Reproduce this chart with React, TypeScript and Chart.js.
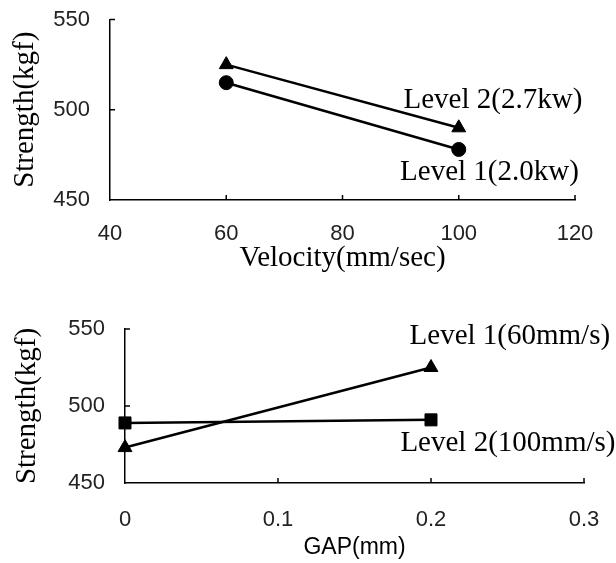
import React, { useEffect, useRef } from "react";
import { Chart, registerables } from "chart.js";

Chart.register(...registerables);

// ---- Top chart: Strength vs Velocity ----
const velocity = [60, 100];
const level2Power = [525, 490]; // Level 2(2.7kw), triangles
const level1Power = [515, 478]; // Level 1(2.0kw), circles
const velocityTicks = [40, 60, 80, 100, 120];
const strengthTicks = [450, 500, 550];
const topLabelText = ["Level 2(2.7kw)", "Level 1(2.0kw)"];

// ---- Bottom chart: Strength vs GAP ----
const gap = [0, 0.2];
const level1Speed = [473, 525]; // Level 1(60mm/s), triangles
const level2Speed = [489, 491]; // Level 2(100mm/s), squares
const gapTicks = [0, 0.1, 0.2, 0.3];
const bottomLabelText = ["Level 1(60mm/s)", "Level 2(100mm/s)"];

const SERIF = "'Liberation Serif', 'Times New Roman', serif";
const SANS = "'Liberation Sans', Arial, sans-serif";

const inwardTicks = {
  id: "inwardTicks",
  afterDraw(chart: any) {
    const { ctx, chartArea, scales } = chart;
    const xs = scales.x;
    const ys = scales.y;
    ctx.save();
    ctx.strokeStyle = "#000";
    ctx.lineWidth = 1.5;
    xs.ticks.forEach((t: any, i: number) => {
      if (i === 0) return;
      const px = xs.getPixelForValue(t.value);
      ctx.beginPath();
      ctx.moveTo(px, chartArea.bottom);
      ctx.lineTo(px, chartArea.bottom - 5);
      ctx.stroke();
    });
    ys.ticks.forEach((t: any, i: number) => {
      if (i === 0) return;
      const py = ys.getPixelForValue(t.value);
      ctx.beginPath();
      ctx.moveTo(chartArea.left, py);
      ctx.lineTo(chartArea.left + 5, py);
      ctx.stroke();
    });
    ctx.restore();
  },
};

function labelPlugin(items: { text: string; x: number; y: number }[], size: number) {
  return {
    id: "seriesLabels",
    afterDraw(chart: any) {
      const { ctx, scales } = chart;
      ctx.save();
      ctx.fillStyle = "#000";
      ctx.font = `${size}px ${SERIF}`;
      ctx.textAlign = "left";
      ctx.textBaseline = "middle";
      items.forEach((it) => {
        ctx.fillText(it.text, scales.x.getPixelForValue(it.x), scales.y.getPixelForValue(it.y));
      });
      ctx.restore();
    },
  };
}

function ds(xs: number[], ys: number[], style: string, radius: number) {
  return {
    data: xs.map((x, i) => ({ x, y: ys[i] })),
    borderColor: "#000",
    backgroundColor: "#000",
    borderWidth: 2.5,
    pointStyle: style,
    pointRadius: radius,
    pointBorderWidth: 1,
    tension: 0,
    clip: false,
  };
}

function build(canvas: HTMLCanvasElement, p: any) {
  return new Chart(canvas, {
    type: "line",
    data: { datasets: p.datasets },
    options: {
      animation: false,
      responsive: false,
      events: [],
      layout: { padding: p.padding },
      plugins: { legend: { display: false }, tooltip: { enabled: false } },
      scales: {
        x: {
          type: "linear",
          min: p.xTicks[0],
          max: p.xTicks[p.xTicks.length - 1],
          afterBuildTicks: (s: any) => {
            s.ticks = p.xTicks.map((v: number) => ({ value: v }));
          },
          afterFit: (s: any) => {
            s.height = p.xHeight;
            s.paddingLeft = 0;
            s.paddingRight = 0;
          },
          grid: { display: false, drawTicks: false },
          border: { display: true, color: "#000", width: 1.5 },
          ticks: {
            font: { family: SANS, size: 22 },
            color: "#222",
            padding: p.xTickPad,
            maxRotation: 0,
            autoSkip: false,
          },
          title: {
            display: true,
            text: p.xTitle,
            font: p.xTitleFont,
            color: "#000",
            padding: { top: 0, bottom: p.xTitlePad },
          },
        },
        y: {
          type: "linear",
          min: p.yTicks[0],
          max: p.yTicks[p.yTicks.length - 1],
          afterBuildTicks: (s: any) => {
            s.ticks = p.yTicks.map((v: number) => ({ value: v }));
          },
          afterFit: (s: any) => {
            s.width = p.yWidth;
            s.paddingTop = 0;
            s.paddingBottom = 0;
          },
          grid: { display: false, drawTicks: false },
          border: { display: true, color: "#000", width: 1.5 },
          ticks: {
            font: { family: SANS, size: 22 },
            color: "#222",
            padding: 20,
          },
          title: {
            display: true,
            text: "Strength(kgf)",
            font: { family: SERIF, size: 29 },
            color: "#000",
            padding: { top: p.yTitlePad, bottom: 0 },
          },
        },
      },
    },
    plugins: [inwardTicks, labelPlugin(p.labels, 29)],
  } as any);
}

export default function App() {
  const topRef = useRef<HTMLCanvasElement>(null);
  const botRef = useRef<HTMLCanvasElement>(null);

  useEffect(() => {
    document.body.style.margin = "0";
    const top = build(topRef.current!, {
      datasets: [
        ds(velocity, level2Power, "triangle", 8),
        ds(velocity, level1Power, "circle", 7),
      ],
      padding: { left: 0, top: 19.5, right: 41, bottom: 0 },
      xTicks: velocityTicks,
      yTicks: strengthTicks,
      xHeight: 80,
      yWidth: 110,
      xTickPad: 21,
      xTitle: "Velocity(mm/sec)",
      xTitleFont: { family: SERIF, size: 29 },
      xTitlePad: 4,
      yTitlePad: 8,
      labels: [
        { text: topLabelText[0], x: 90.5, y: 505 },
        { text: topLabelText[1], x: 89.9, y: 465.5 },
      ],
    });
    const bot = build(botRef.current!, {
      datasets: [
        ds(gap, level1Speed, "triangle", 8),
        ds(gap, level2Speed, "rect", 8.5),
      ],
      padding: { left: 0, top: 49, right: 32, bottom: 0 },
      xTicks: gapTicks,
      yTicks: strengthTicks,
      xHeight: 80,
      yWidth: 125,
      xTickPad: 24,
      xTitle: "GAP(mm)",
      xTitleFont: { family: SANS, size: 23 },
      xTitlePad: 2,
      yTitlePad: 10,
      labels: [
        { text: bottomLabelText[0], x: 0.186, y: 545 },
        { text: bottomLabelText[1], x: 0.18, y: 476 },
      ],
    });
    return () => {
      top.destroy();
      bot.destroy();
    };
  }, []);

  return (
    <div style={{ position: "absolute", left: 0, top: 0, width: 616, height: 563, background: "#fff" }}>
      <canvas ref={topRef} width={616} height={280} style={{ position: "absolute", left: 0, top: 0 }} />
      <canvas ref={botRef} width={616} height={283} style={{ position: "absolute", left: 0, top: 280 }} />
    </div>
  );
}
